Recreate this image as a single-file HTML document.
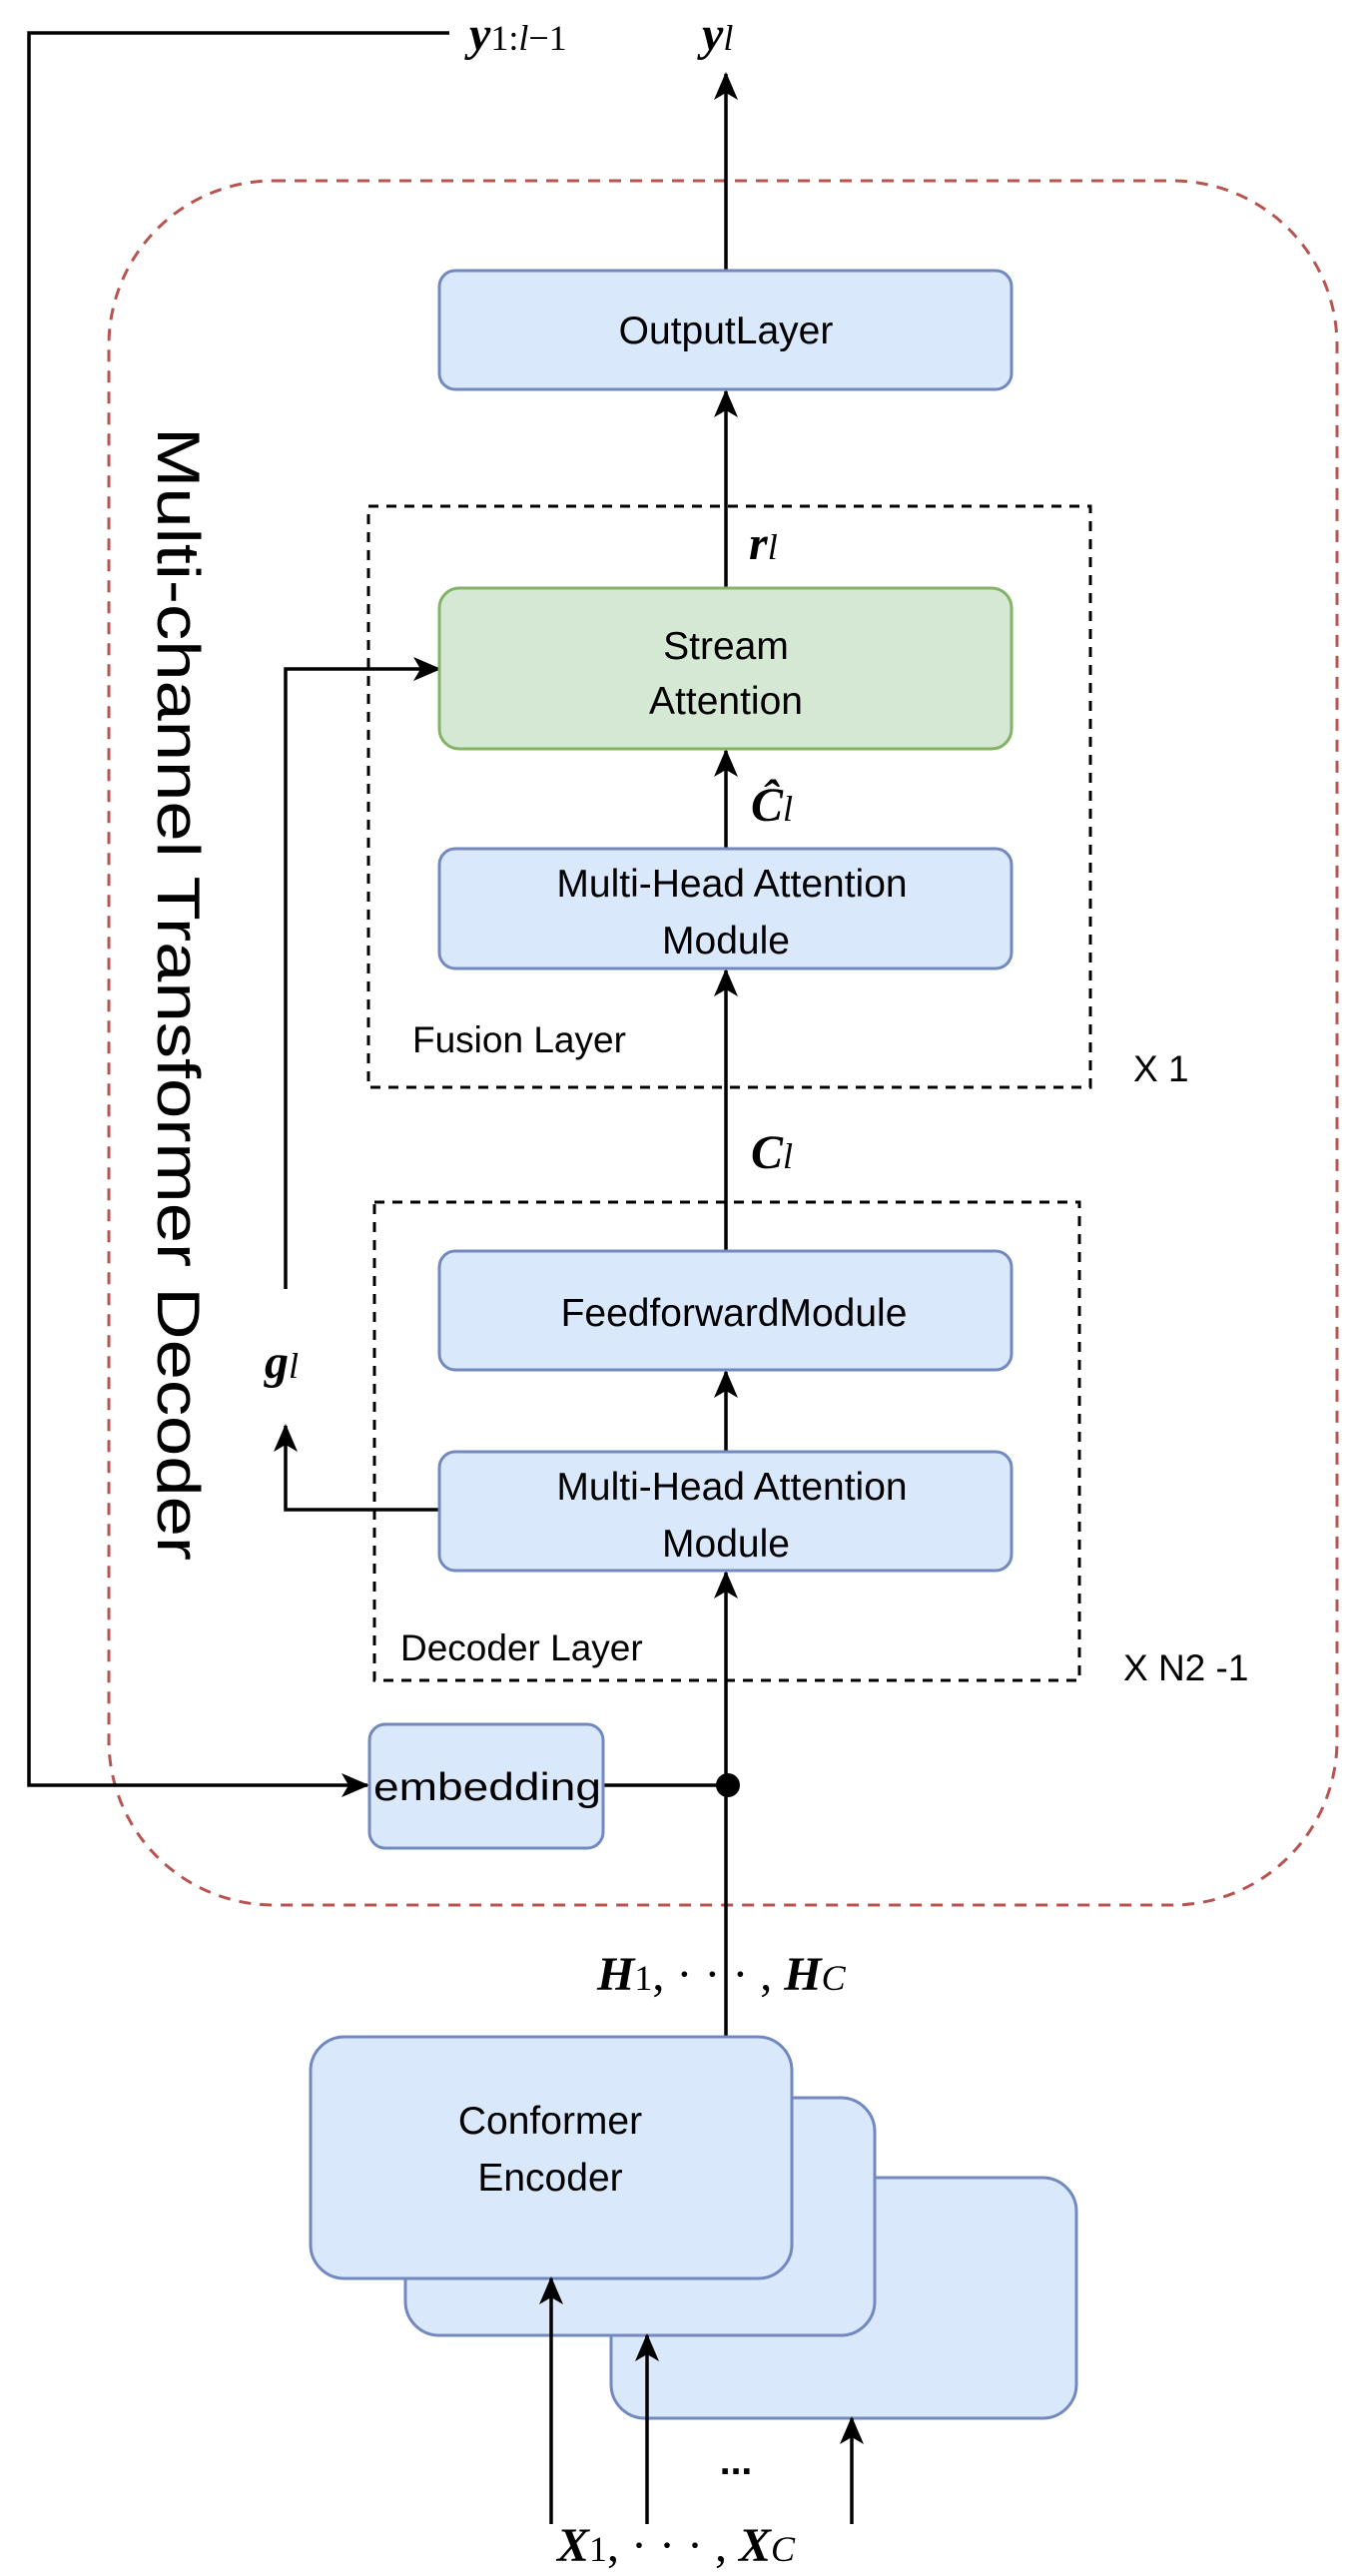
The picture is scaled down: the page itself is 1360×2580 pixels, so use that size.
<!DOCTYPE html>
<html><head><meta charset="utf-8"><style>
html,body{margin:0;padding:0;background:#fff;}
svg{display:block;}
.t{font-family:"Liberation Sans",sans-serif;fill:#000;}
.m{font-family:"Liberation Serif",serif;fill:#000;}
</style></head><body>
<svg width="1360" height="2580" viewBox="0 0 1360 2580" xmlns="http://www.w3.org/2000/svg">
<defs>
<marker id="ar" markerWidth="28" markerHeight="24" refX="26" refY="12" orient="auto" markerUnits="userSpaceOnUse" viewBox="0 0 28 24">
<path d="M0,0 L28,12 L0,24 L7,12 Z" fill="#000"/>
</marker>
</defs>
<!-- outer dashed rounded rect -->
<rect x="109" y="181" width="1230" height="1727" rx="165" ry="165" fill="none" stroke="#b85450" stroke-width="3" stroke-dasharray="12,9"/>
<!-- fusion dashed box -->
<rect x="369" y="507" width="723" height="582" fill="none" stroke="#000" stroke-width="3" stroke-dasharray="10,8"/>
<!-- decoder dashed box -->
<rect x="375" y="1204" width="706" height="479" fill="none" stroke="#000" stroke-width="3" stroke-dasharray="10,8"/>

<!-- feedback line -->
<polyline points="450,33 29,33 29,1788 368,1788" fill="none" stroke="#000" stroke-width="3.5" marker-end="url(#ar)"/>
<!-- main vertical segments -->
<line x1="727" y1="2040" x2="727" y2="1788" stroke="#000" stroke-width="3.5"/>
<line x1="727" y1="1788" x2="727" y2="1575" stroke="#000" stroke-width="3.5" marker-end="url(#ar)"/>
<line x1="727" y1="1454" x2="727" y2="1374" stroke="#000" stroke-width="3.5" marker-end="url(#ar)"/>
<line x1="727" y1="1253" x2="727" y2="972" stroke="#000" stroke-width="3.5" marker-end="url(#ar)"/>
<line x1="727" y1="850" x2="727" y2="752" stroke="#000" stroke-width="3.5" marker-end="url(#ar)"/>
<line x1="727" y1="589" x2="727" y2="392" stroke="#000" stroke-width="3.5" marker-end="url(#ar)"/>
<line x1="727" y1="271" x2="727" y2="74" stroke="#000" stroke-width="3.5" marker-end="url(#ar)"/>
<!-- embedding to dot -->
<line x1="604" y1="1788" x2="727" y2="1788" stroke="#000" stroke-width="3.5"/>
<circle cx="729" cy="1788" r="12" fill="#000"/>
<!-- g_l arrows -->
<polyline points="440,1512 286,1512 286,1428" fill="none" stroke="#000" stroke-width="3.5" marker-end="url(#ar)"/>
<polyline points="286,1291 286,670 440,670" fill="none" stroke="#000" stroke-width="3.5" marker-end="url(#ar)"/>

<!-- boxes -->
<rect x="440" y="271" width="573" height="119" rx="16" fill="#dae8fc" stroke="#7189bf" stroke-width="3"/>
<rect x="440" y="589" width="573" height="161" rx="20" fill="#d5e8d4" stroke="#82b366" stroke-width="3"/>
<rect x="440" y="850" width="573" height="120" rx="16" fill="#dae8fc" stroke="#7189bf" stroke-width="3"/>
<rect x="440" y="1253" width="573" height="119" rx="16" fill="#dae8fc" stroke="#7189bf" stroke-width="3"/>
<rect x="440" y="1454" width="573" height="119" rx="16" fill="#dae8fc" stroke="#7189bf" stroke-width="3"/>
<rect x="370" y="1727" width="234" height="124" rx="16" fill="#dae8fc" stroke="#7189bf" stroke-width="3"/>

<!-- conformer stack -->
<rect x="612" y="2181" width="466" height="241" rx="34" fill="#dae8fc" stroke="#7189bf" stroke-width="3"/>
<rect x="406" y="2101" width="470" height="238" rx="34" fill="#dae8fc" stroke="#7189bf" stroke-width="3"/>
<rect x="311" y="2040" width="482" height="242" rx="34" fill="#dae8fc" stroke="#7189bf" stroke-width="3"/>
<line x1="552" y1="2528" x2="552" y2="2282" stroke="#000" stroke-width="3.5" marker-end="url(#ar)"/>
<line x1="648" y1="2528" x2="648" y2="2339" stroke="#000" stroke-width="3.5" marker-end="url(#ar)"/>
<line x1="853" y1="2528" x2="853" y2="2422" stroke="#000" stroke-width="3.5" marker-end="url(#ar)"/>

<!-- box text -->
<g class="t" font-size="39" text-anchor="middle">
<text x="727" y="344">OutputLayer</text>
<text x="727" y="660">Stream</text>
<text x="727" y="715">Attention</text>
<text x="733" y="898">Multi-Head Attention</text>
<text x="727" y="955">Module</text>
<text x="735" y="1328">FeedforwardModule</text>
<text x="733" y="1502">Multi-Head Attention</text>
<text x="727" y="1559">Module</text>
<text x="488" y="1803" textLength="228" lengthAdjust="spacingAndGlyphs">embedding</text>
<text x="551" y="2137">Conformer</text>
<text x="551" y="2194">Encoder</text>
<text x="737" y="2478" font-weight="bold">...</text>
</g>
<g class="t" font-size="37">
<text x="413" y="1054">Fusion Layer</text>
<text x="1135" y="1083">X 1</text>
<text x="401" y="1663">Decoder Layer</text>
<text x="1125" y="1683">X N2 -1</text>
</g>
<text class="t" font-size="60" textLength="1135" lengthAdjust="spacingAndGlyphs" transform="translate(158,428) rotate(90)">Multi-channel Transformer Decoder</text>

<!-- math labels -->
<g class="m" font-size="48">
<text x="470" y="50"><tspan font-weight="bold" font-style="italic">y</tspan><tspan font-size="36">1:<tspan font-style="italic">l</tspan>−1</tspan></text>
<text x="703" y="50"><tspan font-weight="bold" font-style="italic">y</tspan><tspan font-size="36" font-style="italic">l</tspan></text>
<text x="750" y="560"><tspan font-weight="bold" font-style="italic">r</tspan><tspan font-size="36" font-style="italic">l</tspan></text>
<text x="752" y="822"><tspan font-weight="bold" font-style="italic">Ĉ</tspan><tspan font-size="36" font-style="italic">l</tspan></text>
<text x="752" y="1170"><tspan font-weight="bold" font-style="italic">C</tspan><tspan font-size="36" font-style="italic">l</tspan></text>
<text x="265" y="1380"><tspan font-weight="bold" font-style="italic">g</tspan><tspan font-size="36" font-style="italic">l</tspan></text>
<text x="598" y="1993"><tspan font-weight="bold" font-style="italic">H</tspan><tspan font-size="36">1</tspan>, · · · , <tspan font-weight="bold" font-style="italic">H</tspan><tspan font-size="36" font-style="italic">C</tspan></text>
<text x="558" y="2565"><tspan font-weight="bold" font-style="italic">X</tspan><tspan font-size="36">1</tspan>, · · · , <tspan font-weight="bold" font-style="italic">X</tspan><tspan font-size="36" font-style="italic">C</tspan></text>
</g>
</svg>
</body></html>
